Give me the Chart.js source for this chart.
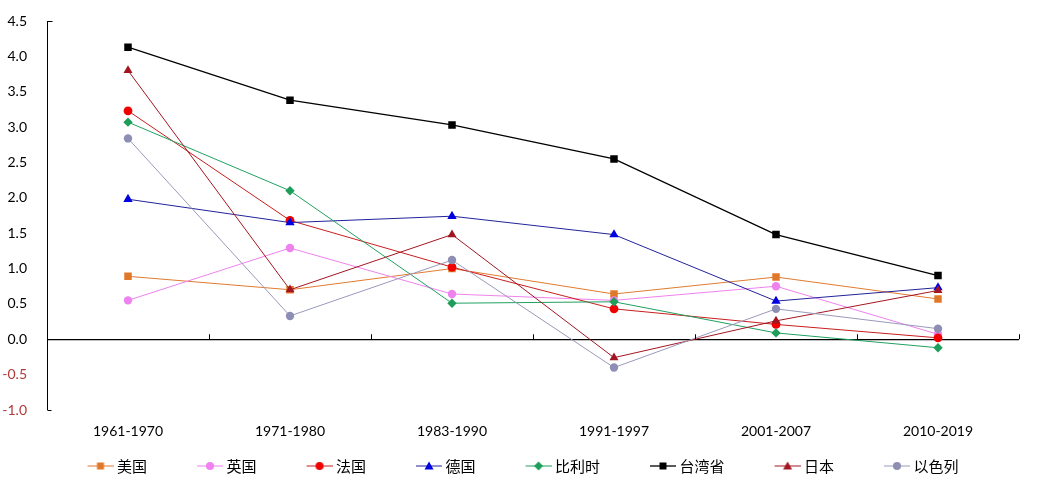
<!DOCTYPE html>
<html>
<head>
<meta charset="utf-8">
<script src="https://cdn.jsdelivr.net/npm/chart.js@4/dist/chart.umd.min.js"></script>
<style>
html,body{margin:0;padding:0;background:#fff;}
#wrap{width:1062px;height:493px;position:relative;}
</style>
</head>
<body>
<div id="wrap"><canvas id="c"></canvas></div>
<script>
const categories = ['1961-1970','1971-1980','1983-1990','1991-1997','2001-2007','2010-2019'];
const seriesNames = ['美国','英国','法国','德国','比利时','台湾省','日本','以色列'];
const usa     = [0.89, 0.70, 1.00, 0.64, 0.88, 0.57];
const uk      = [0.55, 1.29, 0.64, 0.55, 0.75, 0.07];
const france  = [3.23, 1.68, 1.02, 0.43, 0.21, 0.02];
const germany = [1.98, 1.65, 1.74, 1.48, 0.54, 0.73];
const belgium = [3.07, 2.10, 0.51, 0.53, 0.09, -0.12];
const taiwan  = [4.13, 3.38, 3.03, 2.55, 1.48, 0.90];
const japan   = [3.80, 0.70, 1.48, -0.26, 0.26, 0.69];
const israel  = [2.84, 0.33, 1.12, -0.40, 0.43, 0.15];
const yTickMin = -1.0, yTickMax = 4.5, yTickStep = 0.5;

const seriesValues = [usa, uk, france, germany, belgium, taiwan, japan, israel];
const styles = [
  {line:'#E07B30', mark:'#E0782A', shape:'rect', r:5.3},
  {line:'#EE82EE', mark:'#EE82EE', shape:'circle', r:4.2},
  {line:'#C81E1E', mark:'#F00000', shape:'circle', r:4.4},
  {line:'#22229A', mark:'#0000E0', shape:'triangle', r:5.4},
  {line:'#20A060', mark:'#1E9E5A', shape:'rectRot', r:4.7},
  {line:'#000000', mark:'#000000', shape:'rect', r:5.3, w:1.3},
  {line:'#A31621', mark:'#A31621', shape:'triangle', r:5.2},
  {line:'#9999BB', mark:'#8E8EB4', shape:'circle', r:4.2}
];

function legendImage(st){
  const c = document.createElement('canvas');
  c.width = 70; c.height = 12;
  const g = c.getContext('2d');
  g.strokeStyle = st.line; g.lineWidth = st.w || 1;
  g.beginPath(); g.moveTo(44, 6); g.lineTo(70, 6); g.stroke();
  g.fillStyle = st.mark;
  const x = 57, y = 6;
  g.beginPath();
  if (st.shape === 'rect') { g.rect(x-3.5, y-3.5, 7, 7); }
  else if (st.shape === 'circle') { g.arc(x, y, 4, 0, Math.PI*2); }
  else if (st.shape === 'triangle') { g.moveTo(x, y-4.5); g.lineTo(x+4.5, y+3.5); g.lineTo(x-4.5, y+3.5); g.closePath(); }
  else if (st.shape === 'rectRot') { g.moveTo(x, y-4.5); g.lineTo(x+4.5, y); g.lineTo(x, y+4.5); g.lineTo(x-4.5, y); g.closePath(); }
  g.fill();
  return c;
}
const legendImgs = styles.map(legendImage);

const datasets = seriesNames.map((name, i) => ({
  label: name,
  data: seriesValues[i],
  borderColor: styles[i].line,
  backgroundColor: styles[i].mark,
  borderWidth: styles[i].w || 1,
  pointStyle: styles[i].shape,
  pointRadius: styles[i].r,
  pointHoverRadius: styles[i].r,
  pointBackgroundColor: styles[i].mark,
  pointBorderColor: styles[i].mark,
  pointBorderWidth: 0,
  tension: 0,
  fill: false,
  order: seriesNames.length - i
}));

const axisDecor = {
  id: 'axisDecor',
  beforeDraw(chart) {
    if (chart.legend) chart.legend.left = 37.5;
  },
  afterDatasetsDraw(chart) {
    const xs = chart.scales.x, ys = chart.scales.y, ctx = chart.ctx;
    const y0 = ys.getPixelForValue(0);
    const n = categories.length;
    ctx.save();
    ctx.strokeStyle = '#000'; ctx.lineWidth = 1;
    ctx.beginPath();
    for (let i = 1; i <= n; i++) {
      const x = Math.round(xs.left + i * xs.width / n) + 0.5;
      ctx.moveTo(x, y0); ctx.lineTo(x, y0 - 5);
    }
    const xl = Math.round(xs.left) + 0.5;
    const yt = Math.round(ys.getPixelForValue(yTickMax)) + 0.5;
    const yb = Math.round(ys.getPixelForValue(yTickMin)) + 0.5;
    ctx.moveTo(xl, yt); ctx.lineTo(xl + 5, yt);
    ctx.moveTo(xl, yb); ctx.lineTo(xl + 4, yb);
    ctx.stroke();
    ctx.restore();
  }
};

new Chart(document.getElementById('c'), {
  type: 'line',
  data: { labels: categories, datasets },
  options: {
    responsive: true,
    maintainAspectRatio: false,
    animation: false,
    layout: { padding: { left: 0, right: 43, top: 21, bottom: 9.5 } },
    plugins: {
      tooltip: { enabled: false },
      legend: {
        position: 'bottom',
        align: 'start',
        labels: {
          usePointStyle: true,
          pointStyleWidth: 62,
          padding: 10,
          color: '#000',
          font: { family: '"Noto Sans CJK SC", sans-serif', size: 15 },
          sort: (a, b) => a.datasetIndex - b.datasetIndex,
          generateLabels(chart) {
            const items = Chart.defaults.plugins.legend.labels.generateLabels(chart);
            items.forEach(it => { it.pointStyle = legendImgs[it.datasetIndex]; it.rotation = 0; });
            return items;
          }
        }
      }
    },
    scales: {
      x: {
        offset: true,
        grid: { display: true, drawOnChartArea: false, drawTicks: false },
        border: { display: false },
        ticks: { color: '#000', padding: 13, maxRotation: 0, font: { family: 'Lato, sans-serif', size: 14 } },
        afterFit(scale) { scale.height = 38.5; }
      },
      y: {
        min: yTickMin, max: yTickMax,
        grid: {
          drawTicks: false,
          color: c => (c.tick && c.tick.value === 0) ? '#000' : 'rgba(0,0,0,0)',
          lineWidth: c => (c.tick && c.tick.value === 0) ? 1.3 : 0
        },
        border: { display: true, color: '#000', width: 1 },
        ticks: {
          stepSize: yTickStep,
          padding: 20,
          color: c => c.tick.value < 0 ? '#B03A3A' : '#000',
          font: { family: 'Lato, sans-serif', size: 14 },
          callback: v => Number(v).toFixed(1)
        },
        afterFit(scale) { scale.width = 47; scale.paddingTop = 0; scale.paddingBottom = 0; }
      }
    }
  },
  plugins: [axisDecor]
});
</script>
</body>
</html>
